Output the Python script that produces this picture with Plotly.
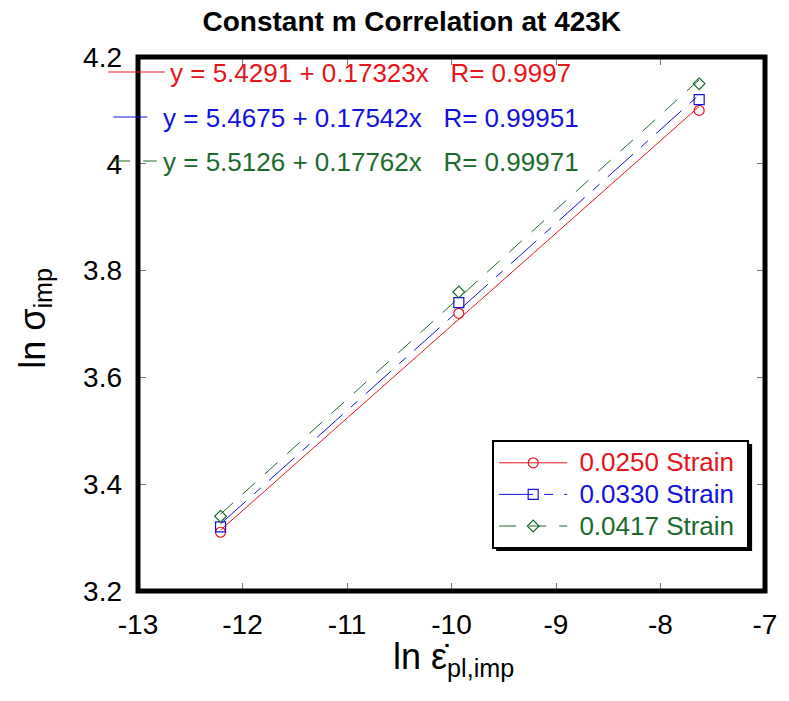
import plotly.graph_objects as go

# ---- data ----
ln_rate = [-12.21, -9.93, -7.63]
series_names = ["0.0250 Strain", "0.0330 Strain", "0.0417 Strain"]
ln_sigma_0250 = [3.31, 3.72, 4.10]
ln_sigma_0330 = [3.32, 3.74, 4.12]
ln_sigma_0417 = [3.34, 3.76, 4.15]
fit_intercepts = [5.4291, 5.4675, 5.5126]
fit_slopes = [0.17323, 0.17542, 0.17762]
fit_R = ["0.9997", "0.99951", "0.99971"]
x_ticks = [-13, -12, -11, -10, -9, -8, -7]
x_tick_labels = ["-13", "-12", "-11", "-10", "-9", "-8", "-7"]
y_ticks = [3.2, 3.4, 3.6, 3.8, 4.0, 4.2]
y_tick_labels = ["3.2", "3.4", "3.6", "3.8", "4", "4.2"]

colors = ["#e8141a", "#1212dc", "#1b6b2c"]
symbols = ["circle-open", "square-open", "diamond-open"]
dashes = ["solid", "34px,11px,9px,11px", "17px,13px"]
msizes = [10, 10, 9]

W, H = 789, 701
L, R, T, B = 138, 770, 57, 591
def px(x):
    return (x - L) / (R - L)
def py(y):
    return (B - y) / (B - T)

FONT = "Liberation Sans, Arial"
fig = go.Figure()
all_y = [ln_sigma_0250, ln_sigma_0330, ln_sigma_0417]
xmin, xmax = min(ln_rate), max(ln_rate)
for i in range(3):
    fx = [xmin, xmax]
    fy = [fit_intercepts[i] + fit_slopes[i] * v for v in fx]
    fig.add_trace(go.Scatter(x=fx, y=fy, mode="lines", showlegend=False,
                             line=dict(color=colors[i], width=1, dash=dashes[i])))
for i in range(3):
    fig.add_trace(go.Scatter(x=ln_rate, y=all_y[i], mode="markers", showlegend=False,
                             marker=dict(symbol=symbols[i], size=msizes[i], color=colors[i],
                                         line=dict(width=1.2, color=colors[i]))))
for i in range(3):
    fig.add_trace(go.Scatter(
        x=[None], y=[None], mode="lines+markers",
        name=f"<span style='color:{colors[i]};font-size:26px'>\u00a0{series_names[i]}\u00a0</span>",
        line=dict(color=colors[i], width=1, dash=dashes[i]),
        marker=dict(symbol=symbols[i], size=msizes[i], color=colors[i],
                    line=dict(width=1.2, color=colors[i]))))

axis_font = dict(family=FONT, size=28, color="black")
fig.update_xaxes(range=[-13, -7], tickvals=x_ticks, ticktext=x_tick_labels, ticks="inside",
                 ticklen=8, tickwidth=1, tickcolor="#777777", showgrid=False, zeroline=False,
                 showline=False, mirror="allticks", tickfont=axis_font, ticklabelstandoff=14)
fig.update_yaxes(range=[3.2, 4.2], tickvals=y_ticks, ticktext=y_tick_labels, ticks="inside",
                 ticklen=8, tickwidth=1, tickcolor="#777777", showgrid=False, zeroline=False,
                 showline=False, mirror="allticks", tickfont=axis_font, ticklabelstandoff=15)

shapes = []
# legend shadow
lg_l, lg_t, lg_r, lg_b = 495, 440, 753, 547
shapes.append(dict(type="rect", xref="paper", yref="paper", x0=px(lg_l + 4), x1=px(lg_r + 4),
                   y0=py(lg_b + 4), y1=py(lg_t + 4), fillcolor="black", line=dict(width=0),
                   layer="below"))
# frame
shapes.append(dict(type="rect", xref="paper", yref="paper", x0=0, x1=1, y0=0, y1=1,
                   line=dict(color="black", width=5), layer="above"))
# equation key lines
eq_rows = [73, 118, 162]
eq_x = [168, 161, 161]
seg = [(108, 165), (113, 157), (113, 157)]
for i in range(3):
    shapes.append(dict(type="line", xref="paper", yref="paper", x0=px(seg[i][0]), x1=px(seg[i][1]),
                       y0=py(eq_rows[i] - 1), y1=py(eq_rows[i] - 1),
                       line=dict(color=colors[i], width=1, dash=dashes[i])))

annotations = []
for i in range(3):
    annotations.append(dict(xref="paper", yref="paper", x=px(eq_x[i]), y=py(eq_rows[i]),
                            xanchor="left", yanchor="middle", showarrow=False,
                            text=f"y = {fit_intercepts[i]} + {fit_slopes[i]}x   R= {fit_R[i]}",
                            font=dict(family=FONT, size=26, color=colors[i])))
annotations.append(dict(xref="paper", yref="paper", x=px(34), y=py(318), xanchor="center",
                        yanchor="middle", showarrow=False, textangle=-90,
                        text="ln σ<sub>imp</sub>",
                        font=dict(family=FONT, size=36, color="black")))
annotations.append(dict(xref="paper", yref="paper", x=px(456), y=py(659), xanchor="center",
                        yanchor="middle", showarrow=False,
                        text="ln ε̇<sub>pl,imp</sub>",
                        font=dict(family=FONT, size=36, color="black")))

fig.update_layout(
    width=W, height=H,
    margin=dict(l=L, r=W - R, t=T, b=H - B),
    paper_bgcolor="white", plot_bgcolor="white",
    title=dict(text="<b>Constant m Correlation at 423K</b>", xref="paper", x=px(414),
               xanchor="center", y=1 - 21 / H, yanchor="middle",
               font=dict(family=FONT, size=28, color="black")),
    shapes=shapes, annotations=annotations,
    legend=dict(x=px(lg_l), y=py(lg_t), xanchor="left", yanchor="top",
                bgcolor="white", bordercolor="black", borderwidth=2,
                font=dict(family=FONT, size=22),
                tracegroupgap=0, itemwidth=68),
)
fig.write_html("out.html", post_script="document.body.style.margin='0';",
               config={"displayModeBar": False})
